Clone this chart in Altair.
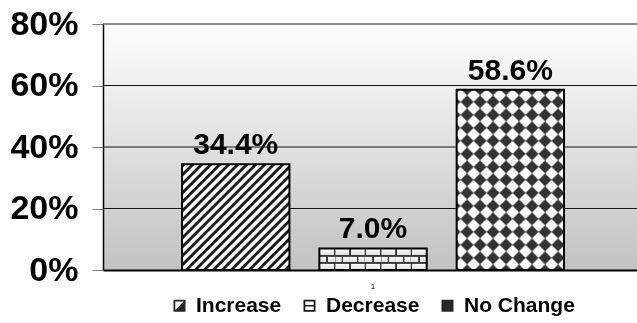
import math
import altair as alt
import pandas as pd

# ---- data -------------------------------------------------------------
series = ["Increase", "Decrease", "No Change"]
values = [34.4, 7.0, 58.6]
category = ["1"]
y_ticks = [0, 20, 40, 60, 80]

FONT = "Liberation Sans"

# ---- layout -----------------------------------------------------------
PLOT_W, PLOT_H = 534, 246
Y_MAX = 80
X_PAD_OUTER, X_ALIGN = 0.199, 0.52
OFF_PAD_INNER = 0.218

band = PLOT_W / (1 + 2 * X_PAD_OUTER)
step = band / (len(series) - OFF_PAD_INNER)
BAR_W = step * (1 - OFF_PAD_INNER)


def bar_h(v):
    return v * PLOT_H / Y_MAX


def gray(level):
    level = max(0, min(255, int(round(level))))
    return "#%02x%02x%02x" % (level, level, level)


def interp(pts, s):
    if s <= pts[0][0]:
        return pts[0][1]
    for (s0, l0), (s1, l1) in zip(pts, pts[1:]):
        if s0 <= s <= s1:
            if s1 == s0:
                return l1
            return l0 + (l1 - l0) * (s - s0) / (s1 - s0)
    return pts[-1][1]


def stripe_stops(period, dark_frac, s_total, phase=0.0, dark=0, light=255, soft=0.8):
    """Stops of a square-wave stripe profile along a gradient of length s_total px."""
    dlen = dark_frac * period
    k0 = math.floor(-phase / period) - 2
    k1 = math.ceil((s_total - phase) / period) + 2
    pts = []
    for k in range(k0, k1 + 1):
        a = phase + k * period
        b = a + dlen
        pts += [(a - soft / 2, light), (a + soft / 2, dark),
                (b - soft / 2, dark), (b + soft / 2, light)]
    keep = [(s, l) for s, l in pts if 0 < s < s_total]
    full = [(0.0, interp(pts, 0.0))] + keep + [(s_total, interp(pts, s_total))]
    return [alt.GradientStop(offset=round(s / s_total, 5), color=gray(l)) for s, l in full]


def sampled_stops(fn, s_total, res=0.25):
    n = int(math.ceil(s_total / res))
    out = []
    for i in range(n + 1):
        s = min(s_total, i * res)
        out.append(alt.GradientStop(offset=round(s / s_total, 5), color=gray(fn(s))))
    return out


def diag_fill(w, h, period, dark_frac, phase=0.0, rising=True, dark=0, light=255, soft=0.9):
    """45-degree stripes on a w x h box; rising=True draws '/' stripes."""
    k = max(1.0, (w + h) * w / (w * w + h * h)) * 1.02
    s_total = k * (w * w + h * h) / w
    stops = stripe_stops(period, dark_frac, s_total, phase, dark, light, soft)
    if rising:
        return alt.LinearGradient(gradient="linear", stops=stops,
                                  x1=0, y1=0, x2=k, y2=k * h / w)
    return alt.LinearGradient(gradient="linear", stops=stops,
                              x1=0, y1=1, x2=k, y2=1 - k * h / w)


def horiz_fill(stops):
    return alt.LinearGradient(gradient="linear", stops=stops, x1=0, y1=0, x2=1, y2=0)


def vert_fill(stops):
    return alt.LinearGradient(gradient="linear", stops=stops, x1=0, y1=0, x2=0, y2=1)


val = dict(zip(series, values))

# hatch for "Increase"
inc_fill = diag_fill(BAR_W, bar_h(val["Increase"]), 9.0, 0.45, rising=True,
                     dark=25, light=255, soft=1.6)

# checker for "No Change": two crossing stripe sets combined by difference
h_nc = bar_h(val["No Change"])
nc_a = diag_fill(BAR_W, h_nc, 26.0, 0.5, phase=3.0, rising=True, soft=2.0)
nc_b = diag_fill(BAR_W, h_nc, 26.0, 0.5, phase=3.0, rising=False, soft=2.0)

# brick for "Decrease"
h_dec = bar_h(val["Decrease"])
row_h = h_dec / 3
brick_p = BAR_W / 7
joint = 1.5
dec_j0 = horiz_fill(stripe_stops(brick_p, joint / brick_p, BAR_W, -joint / 2, soft=0.5))
dec_rows = vert_fill(stripe_stops(2 * row_h, 0.5, h_dec, 0.0, soft=0.3))
dec_d = horiz_fill(stripe_stops(brick_p / 2, joint / (brick_p / 2), BAR_W, -joint / 2, soft=0.5))


def mortar_level(s):
    pos = s % row_h
    if pos < 0.9 or pos > row_h - 0.9:
        return 0
    return 255 - 45 * (pos / row_h)


dec_mortar = vert_fill(sampled_stops(mortar_level, h_dec))

bg_fill = alt.LinearGradient(
    gradient="linear", x1=0, y1=0, x2=0, y2=1,
    stops=[alt.GradientStop(offset=0, color="#fefefe"),
           alt.GradientStop(offset=1, color="#c2c2c2")],
)

# legend icons (unit-box paths)
FRAME = "M-1,-1H1V1H-1Z M-0.7,-0.7V0.7H0.7V-0.7Z"
icon_paths = [
    FRAME + " M0.7,-0.7L0.7,0.7L-0.7,0.7Z",
    FRAME + " M-0.7,-0.13H0.7V0.13H-0.7Z",
    "M-1,-1H1V1H-1Z",
]
icon_colors = ["#262626", "#1c1c1c", "#262626"]

df = pd.DataFrame({
    "cat": category * len(series),
    "series": series,
    "value": values,
})

Y = alt.Y(
    "value:Q",
    scale=alt.Scale(domain=[0, Y_MAX], nice=False),
    axis=alt.Axis(
        values=y_ticks, labelExpr="datum.value + '%'", title=None, grid=False,
        tickSize=11, tickColor="#7f7f7f", tickWidth=1,
        domainColor="black", domainWidth=1.5,
        labelFont=FONT, labelFontSize=34, labelFontWeight="bold",
        labelColor="black", labelPadding=14, zindex=1,
    ),
)
X = alt.X(
    "cat:N",
    scale=alt.Scale(paddingInner=0, paddingOuter=X_PAD_OUTER, align=X_ALIGN),
    axis=alt.Axis(
        title=None, labelAngle=0, ticks=False, labelFont=FONT, labelFontSize=8,
        labelColor="black", labelPadding=12, domainColor="black", domainWidth=2,
        zindex=1,
    ),
)
XO = alt.XOffset(
    "series:N",
    scale=alt.Scale(domain=series, paddingInner=OFF_PAD_INNER, paddingOuter=0),
)

base = alt.Chart(df).encode(x=X, xOffset=XO, y=Y)


def only(name):
    return base.transform_filter(alt.datum.series == name)


background = alt.Chart(alt.Data(values=[{}])).mark_rect(fill=bg_fill).encode(
    x=alt.value(0), x2=alt.value(PLOT_W), y=alt.datum(Y_MAX), y2=alt.datum(0)
)

gridlines = alt.Chart(pd.DataFrame({"value": y_ticks[1:]})).mark_rule(
    color="#141414", strokeWidth=1.2
).encode(y=Y, x=alt.value(0), x2=alt.value(PLOT_W))

inc_bar = only("Increase").mark_bar(fill=inc_fill)

dec_layers = [
    only("Decrease").mark_bar(fill=dec_j0),
    only("Decrease").mark_bar(fill=dec_rows, blend="difference"),
    only("Decrease").mark_bar(fill=dec_d, blend="lighten"),
    only("Decrease").mark_bar(fill=dec_mortar, blend="multiply"),
    only("Decrease").mark_bar(fill="white", opacity=0.22),
]

nc_layers = [
    only("No Change").mark_bar(fill=nc_a),
    only("No Change").mark_bar(fill=nc_b, blend="difference"),
    only("No Change").mark_bar(fill="white", opacity=0.2),
]

outline = base.mark_bar(fillOpacity=0, stroke="black", strokeWidth=2)

labels = base.transform_calculate(
    label="format(datum.value, '.1f') + '%'"
).mark_text(
    dy=-10, baseline="alphabetic", font=FONT, fontSize=30, fontWeight="bold", color="black"
).encode(text="label:N")

legend_args = dict(
    orient="none", legendX=66, legendY=271, direction="horizontal", columns=3,
    title=None, labelFont=FONT, labelFontSize=21, labelFontWeight="bold",
    labelColor="black", symbolSize=144, symbolStrokeWidth=0, symbolOpacity=1,
    labelOffset=6, columnPadding=17, padding=0,
)

legend_marks = base.mark_point(filled=True, opacity=0, size=144).encode(
    color=alt.Color("series:N", scale=alt.Scale(domain=series, range=icon_colors),
                    legend=alt.Legend(**legend_args)),
    shape=alt.Shape("series:N", scale=alt.Scale(domain=series, range=icon_paths),
                    legend=alt.Legend(**legend_args)),
)

chart = alt.layer(
    background, gridlines, inc_bar, *dec_layers, *nc_layers, outline, labels, legend_marks
).properties(
    width=PLOT_W,
    height=PLOT_H,
    autosize=alt.AutoSizeParams(type="none"),
    padding={"left": 103, "top": 24, "right": 0, "bottom": 53},
    background="white",
).configure_view(stroke=None)

chart.save("out.html", embed_options={"renderer": "svg", "actions": False})
